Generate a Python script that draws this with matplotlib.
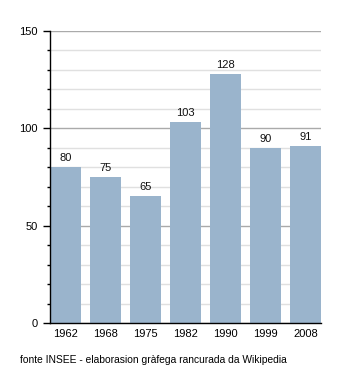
import matplotlib
matplotlib.use("Agg")
import matplotlib.pyplot as plt
from matplotlib.ticker import MultipleLocator

years = ["1962", "1968", "1975", "1982", "1990", "1999", "2008"]
population = [80, 75, 65, 103, 128, 90, 91]
source_note = "fonte INSEE - elaborasion gràfega rancurada da Wikipedia"

plt.rcParams["font.family"] = ["Liberation Sans", "DejaVu Sans"]

W, H = 350, 373
fig = plt.figure(figsize=(W / 100, H / 100), dpi=100)
ax = fig.add_axes([50 / W, (H - 323) / H, 271 / W, 292 / H])

bar_w = 0.775
x = list(range(len(years)))
ax.bar(x, population, width=bar_w, color="#9ab4cc", zorder=2)
for xi, v in zip(x, population):
    ax.annotate(str(v), (xi, v), xytext=(0, 3), textcoords="offset points",
                ha="center", va="bottom", fontsize=8, color="#111111")

ax.set_xlim(-bar_w / 2, len(years) - 1 + bar_w / 2)
ax.set_ylim(0, 150)
ax.set_xticks(x)
ax.set_xticklabels(years, fontsize=8)
ax.yaxis.set_major_locator(MultipleLocator(50))
ax.yaxis.set_minor_locator(MultipleLocator(10))
ax.tick_params(axis="y", which="major", length=5, width=1, labelsize=8, pad=4)
ax.tick_params(axis="y", which="minor", length=2.5, width=1)
ax.tick_params(axis="x", length=0, labelsize=8, pad=4)

ax.grid(axis="y", which="major", color="#aaaaaa", linewidth=1, zorder=0)
ax.grid(axis="y", which="minor", color="#e0e0e0", linewidth=1, zorder=0)
ax.set_axisbelow(True)

for s in ["top", "right"]:
    ax.spines[s].set_visible(False)
ax.spines["left"].set_linewidth(1)
ax.spines["bottom"].set_linewidth(1)

fig.text(20 / W, 1 - 360 / H, source_note, fontsize=7.4, ha="left", va="center")

fig.savefig("out.png", dpi=100)
